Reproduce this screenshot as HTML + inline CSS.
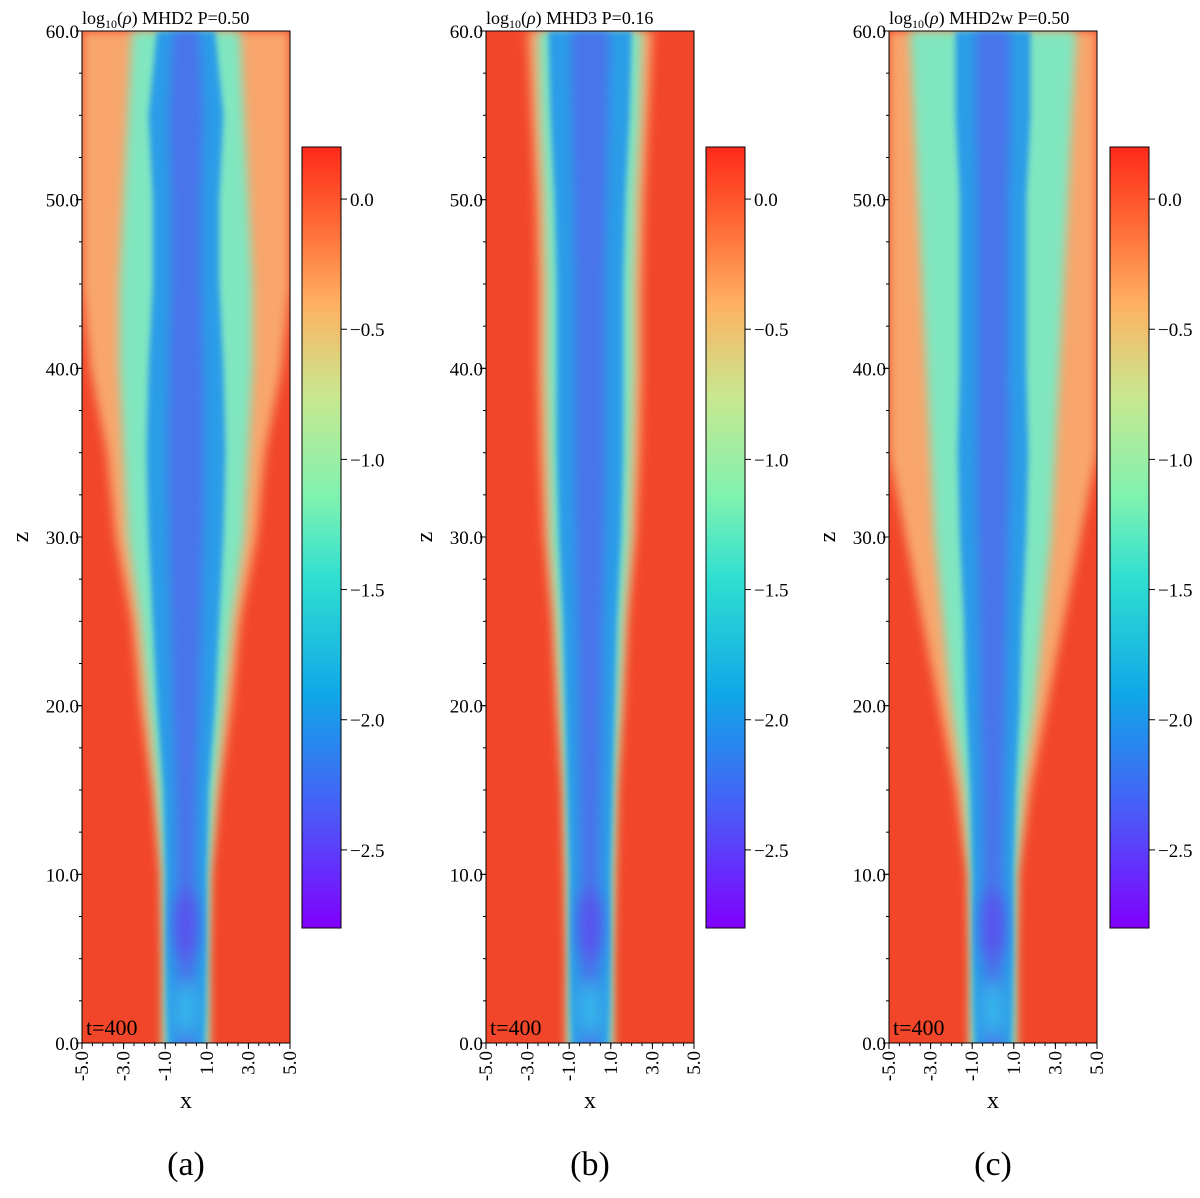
<!DOCTYPE html>
<html><head><meta charset="utf-8"><style>
body{margin:0;background:#fff;}
svg text{font-family:"Liberation Serif",serif;fill:#000;}
</style></head><body>
<svg id="fig" width="1200" height="1193" xmlns="http://www.w3.org/2000/svg">
<defs>
<linearGradient id="cmap" x1="0" y1="1" x2="0" y2="0">
<stop offset="0" stop-color="#8000ff"/><stop offset="0.15" stop-color="#4a5cf8"/>
<stop offset="0.3" stop-color="#10a8e8"/><stop offset="0.45" stop-color="#30e0d0"/>
<stop offset="0.55" stop-color="#7ef2b0"/><stop offset="0.68" stop-color="#c8e890"/>
<stop offset="0.8" stop-color="#ffb060"/><stop offset="0.9" stop-color="#ff6a36"/>
<stop offset="1" stop-color="#ff2a1a"/></linearGradient>
<filter id="blur" x="-20%" y="-5%" width="140%" height="110%"><feGaussianBlur stdDeviation="5"/></filter>
<filter id="blur2" x="-20%" y="-5%" width="140%" height="110%"><feGaussianBlur stdDeviation="3"/></filter>
<filter id="blur3" x="-50%" y="-50%" width="200%" height="200%"><feGaussianBlur stdDeviation="8"/></filter>
</defs>
</svg>
<script>
const zs=[0,5,10,15,20,25,30,35,40,45,50,55,60];
const outerA=[1.1,1.1,1.2,1.6,2.2,2.6,3.4,3.8,4.6,5,5,5,5];
const midA=[1.05,1.05,1.1,1.4,1.8,2.2,2.8,3,3.2,3.2,3,2.8,2.6];
const coreA=[0.9,1,1,1.1,1.4,1.6,1.8,1.9,1.8,1.6,1.6,1.8,1.4];
const outerB=[1.1,1.1,1.2,1.3,1.6,1.8,2.2,2.4,2.5,2.5,2.6,2.8,3];
const midB=[1.05,1.05,1.1,1.2,1.4,1.6,1.9,2,2.1,2.1,2.2,2.4,2.5];
const coreB=[0.9,1,1,1.1,1.2,1.3,1.5,1.6,1.6,1.6,1.7,1.9,2];
const outerC=[1.1,1.1,1.2,1.8,2.6,3.4,4.2,5,5,5,5,5,5];
const midC=[1.05,1.05,1.1,1.4,2,2.4,2.8,3,3.2,3.4,3.6,3.8,4];
const coreC=[0.9,1,1,1.1,1.3,1.4,1.6,1.7,1.6,1.6,1.6,1.8,1.8];
const yTicks=[0,10,20,30,40,50,60];
const xTicks=[-5,-3,-1,1,3,5];
const cbTicks=[0,-0.5,-1,-1.5,-2,-2.5];
const panels=[
 {x0:82,cb:302,title:"MHD2 P=0.50",lab:"(a)",o:outerA,m:midA,c:coreA},
 {x0:486,cb:706,title:"MHD3 P=0.16",lab:"(b)",o:outerB,m:midB,c:coreB},
 {x0:889,cb:1110,title:"MHD2w P=0.50",lab:"(c)",o:outerC,m:midC,c:coreC}];
const svg=document.getElementById('fig');
const NS="http://www.w3.org/2000/svg";
function mk(t,a,p){const e=document.createElementNS(NS,t);for(const k in a)e.setAttribute(k,a[k]);(p||svg).appendChild(e);return e;}
const Y0=1043,H=1012,W=208;
panels.forEach((P,i)=>{
 const sx=v=>P.x0+(v+5)*W/10, sy=z=>Y0-z*H/60;
 const g=mk('g',{});
 
 
 const clip=mk('clipPath',{id:'clip'+i},g);
 mk('rect',{x:P.x0,y:31,width:W,height:H},clip);
 const pg=mk('g',{'clip-path':'url(#clip'+i+')'},g);
 const bg=mk('rect',{x:P.x0,y:31,width:W,height:H,fill:'#f2462a'},pg);
 
 
 function poly(arr,fill,f){
  let pts=zs.map((z,k)=>sx(arr[k])+','+sy(z));
  pts=pts.concat(zs.slice().reverse().map((z,k)=>sx(-arr[zs.length-1-k])+','+sy(z)));
  pts.push(sx(-arr[0])+','+(Y0+10));pts.unshift(sx(arr[0])+','+(Y0+10));
  return mk('polygon',{points:pts.join(' '),fill:fill,filter:f},pg);}
 const e1=poly(P.o,'#f8a66c','url(#blur)');
 
 
 const e2=poly(P.m,'#80e6c0','url(#blur)');
 
 
 const e3=poly(P.c,'#2a9ce8','url(#blur2)');
 
 
 const e4=poly(P.c.map(v=>v*0.45),'#4a74ea','url(#blur)');
 
 
 const b1=mk('ellipse',{cx:sx(0),cy:sy(2),rx:W*0.06,ry:30,fill:'#30b8ea',filter:'url(#blur3)'},pg);
 
 
 const b2=mk('ellipse',{cx:sx(0),cy:sy(7),rx:W*0.05,ry:35,fill:'#5a50ee',filter:'url(#blur3)'},pg);
 
 
 mk('rect',{x:P.x0,y:31,width:W,height:H,fill:'none',stroke:'#000','stroke-width':1},g);
 yTicks.forEach(v=>{mk('line',{x1:P.x0-6,x2:P.x0,y1:sy(v),y2:sy(v),stroke:'#000'},g);
  const t=mk('text',{x:P.x0-3,y:sy(v)+7,'text-anchor':'end','font-size':19},g);t.textContent=v.toFixed(1);
  });
 for(let v=0;v<=60;v+=2.5)mk('line',{x1:P.x0-3,x2:P.x0,y1:sy(v),y2:sy(v),stroke:'#000'},g);
 for(let v=-5;v<=5;v+=0.5)mk('line',{x1:sx(v),x2:sx(v),y1:Y0,y2:Y0+3,stroke:'#000'},g);
 xTicks.forEach(v=>{mk('line',{x1:sx(v),x2:sx(v),y1:Y0,y2:Y0+6,stroke:'#000'},g);
  const t=mk('text',{x:0,y:0,'text-anchor':'end','font-size':19,transform:`translate(${sx(v)+6},${Y0+8}) rotate(-90)`},g);t.textContent=v.toFixed(1);
  });
 const yl=mk('text',{x:0,y:0,'font-size':24,'text-anchor':'middle',transform:`translate(${P.x0-54},537) rotate(-90)`},g);yl.textContent='z';
 
 const xl=mk('text',{x:P.x0+W/2,y:1108,'font-size':24,'text-anchor':'middle'},g);xl.textContent='x';
 
 const ti=mk('text',{x:P.x0,y:24,'font-size':18},g);
 ti.innerHTML='log<tspan font-size="12" dy="4">10</tspan><tspan dy="-4">(</tspan><tspan font-style="italic">ρ</tspan>) '+P.title;
 
 const tt=mk('text',{x:P.x0+4,y:1035,'font-size':22},g);tt.textContent='t=400';
 
 const pl=mk('text',{x:P.x0+W/2,y:1175,'font-size':34,'text-anchor':'middle'},g);pl.textContent=P.lab;
 
 const cbTop=147,cbBot=928,vmax=0.2,vmin=-2.8;
 const cy=v=>cbTop+(vmax-v)/(vmax-vmin)*(cbBot-cbTop);
 const cbr=mk('rect',{x:P.cb,y:cbTop,width:39,height:cbBot-cbTop,fill:'url(#cmap)',stroke:'#000','stroke-width':1},g);
 
 cbTicks.forEach(v=>{mk('line',{x1:P.cb+39,x2:P.cb+45,y1:cy(v),y2:cy(v),stroke:'#000'},g);
  const t=mk('text',{x:P.cb+48,y:cy(v)+7,'font-size':19},g);t.textContent=(v<0?'\u2212':'')+Math.abs(v).toFixed(1);
  });
});
</script>
</body></html>
